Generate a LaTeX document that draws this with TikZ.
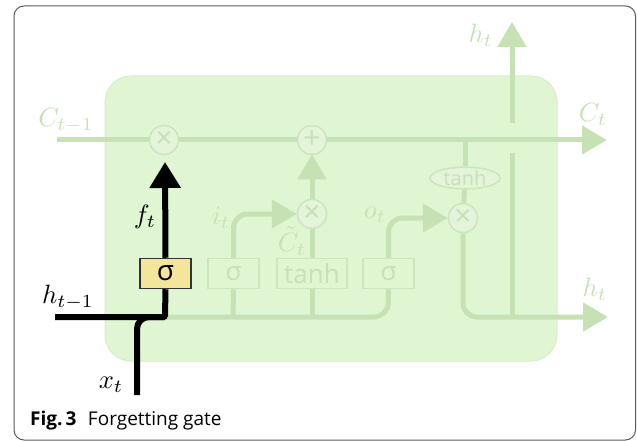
\documentclass[tikz,border=0pt]{standalone}
\usepackage{fontspec}
\setmainfont{Open Sans}
\usetikzlibrary{arrows.meta,shapes.geometric}
\definecolor{cellfill}{HTML}{E0F5D2}
\definecolor{celledge}{HTML}{D6EEC6}
\definecolor{fadeline}{HTML}{C6E2B5}
\definecolor{fadetext}{HTML}{C8E0B8}
\definecolor{opfill}{HTML}{E3F4D9}
\definecolor{opedge}{HTML}{CDE5BF}
\definecolor{gatefill}{HTML}{F3E69A}
\definecolor{framegray}{HTML}{5A5A5A}
\newcommand{\biglabel}[1]{\scalebox{2.65}{$#1$}}
\tikzset{
  faded/.style={draw=fadeline, line width=5pt},
  strong/.style={draw=black, line width=6pt},
  fadehead/.style={-{Triangle[length=25pt,width=28pt]}},
  stronghead/.style={-{Triangle[length=26pt,width=30pt]}},
  op/.style={circle, draw=opedge, fill=opfill, line width=1.5pt, minimum size=29pt, inner sep=0pt,
             text=fadetext, font=\fontsize{30}{30}\selectfont},
  gate/.style={rectangle, draw=opedge, fill=cellfill, line width=1.5pt, minimum height=30pt, inner sep=0pt,
               text=fadetext, font=\fontsize{26}{26}\selectfont},
  fgate/.style={rectangle, draw=black!80, fill=gatefill, line width=1.5pt, minimum height=30pt,
                minimum width=51pt, inner sep=0pt, font=\fontsize{28}{28}\selectfont},
  flabel/.style={text=fadetext, inner sep=0pt},
  blabel/.style={text=black, inner sep=0pt}
}
\begin{document}
\begin{tikzpicture}[x=1pt,y=-1pt]
\useasboundingbox (0,0) rectangle (637,441);
% outer frame
\draw[framegray, line width=1pt, rounded corners=10pt] (14,6) rectangle (635.5,440);
% cell body
\fill[cellfill, rounded corners=26pt] (105,76) rectangle (557,361);
\draw[celledge, line width=1pt, rounded corners=26pt] (105,76) rectangle (557,361);

% named points
\coordinate (cin) at (57,140);
\coordinate (cout) at (607,140);
\coordinate (hin) at (55,317);
\coordinate (xin) at (137,395);
\coordinate (hout) at (608,317);
\coordinate (htop) at (512,22);
\coordinate (htopstart) at (512,123);
\coordinate (hlowstart) at (512,153);
\coordinate (hjoin) at (512,317);
\coordinate (tap) at (465,140);
\coordinate (fjoin) at (165,317);
\coordinate (ojoin) at (388,317);
\coordinate (ijoin) at (233,317);
\coordinate (tjoin) at (312,317);
\coordinate (xjoin) at (137,317);

% operators
\node[op] (mulf) at (164,140) {×};
\node[op] (add) at (312,140) {+};
\node[op] (muli) at (312,214) {×};
\node[op] (mulo) at (463,218) {×};
\node[op, ellipse, minimum width=70pt, minimum height=21pt, inner sep=0pt, font=\fontsize{20}{20}\selectfont] (tanhc) at (465,178) {tanh};

% gates
\node[gate, minimum width=51pt] (sigi) at (233.5,273.5) {σ};
\node[gate, minimum width=70pt] (tanhb) at (312,273.5) {tanh};
\node[gate, minimum width=51pt] (sigo) at (388.5,273.5) {σ};

% faded connectors
\draw[faded] (cin) -- (mulf);
\draw[faded] (mulf) -- (add);
\draw[faded, fadehead] (add) -- (cout);
\draw[faded] (tap) -- (tanhc);
\draw[faded] (tanhc) -- (mulo);
\draw[faded, fadehead, rounded corners=14pt] (mulo) -- (463,317) -- (hout);
\draw[faded, fadehead] (htopstart) -- (htop);
\draw[faded] (hlowstart) -- (hjoin);
\draw[faded, rounded corners=14pt] (fjoin) -- (ojoin) -- (sigo.south);
\draw[faded] (sigi.south) -- (ijoin);
\draw[faded] (tanhb.south) -- (tjoin);
\draw[faded, fadehead, rounded corners=14pt] (sigi.north) -- (233.5,214) -- (muli.west);
\draw[faded] (tanhb.north) -- (muli.south);
\draw[faded, fadehead, shorten >=-1pt] (muli.north) -- (add.south);
\draw[faded, fadehead, rounded corners=14pt] (sigo.north) -- (388.5,218) -- (mulo.west);

% highlighted forget gate
\node[fgate] (sigf) at (165.5,273.5) {σ};
\draw[strong, rounded corners=2pt] (hin) -- (fjoin) -- (sigf.south);
\draw[strong, rounded corners=12pt] (xin) -- (xjoin) -- (fjoin);
\draw[strong, stronghead] (sigf.north) -- (165,162);

% labels
\node[flabel] (lcin) at (66,121) {\biglabel{C_{t-1}}};
\node[flabel] (lcout) at (593,114) {\biglabel{C_t}};
\node[flabel] (lhtop) at (481,35) {\biglabel{h_t}};
\node[flabel] (lhout) at (595,289) {\biglabel{h_t}};
\node[flabel] (li) at (221,218) {\biglabel{i_t}};
\node[flabel] (lct) at (292,241) {\biglabel{\tilde{C}_t}};
\node[flabel] (lo) at (375,215) {\biglabel{o_t}};
\node[blabel] (lf) at (145,217) {\biglabel{f_t}};
\node[blabel] (lhin) at (68,297) {\biglabel{h_{t-1}}};
\node[blabel] (lx) at (111,385) {\biglabel{x_t}};

% caption
\node[anchor=base west, inner sep=0pt, font=\fontsize{19}{22}\selectfont] (cap) at (30,425)
  {\textbf{Fig.\,3}\hspace{0.6em}Forgetting gate};
\end{tikzpicture}
\end{document}
